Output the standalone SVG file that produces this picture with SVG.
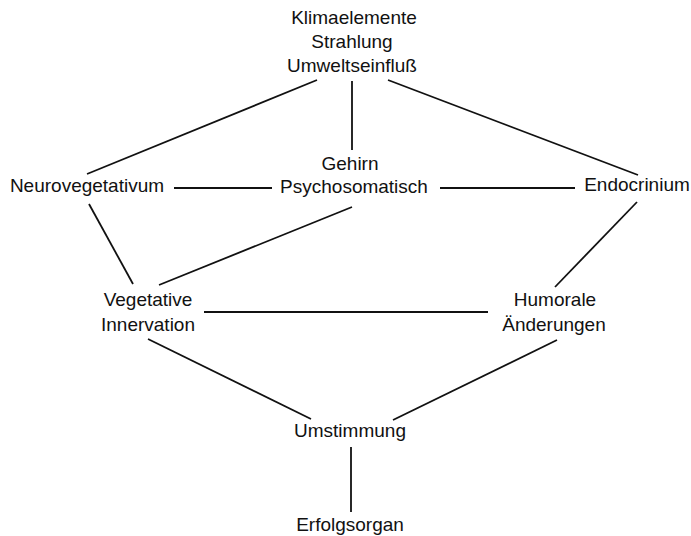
<svg xmlns="http://www.w3.org/2000/svg" width="691" height="536" viewBox="0 0 691 536">
<style>
text{font-family:"Liberation Sans",Arial,sans-serif;font-size:19px;fill:#111;text-anchor:middle}
.c line{stroke:#111;stroke-width:1.8;stroke-linecap:butt}
</style>
<rect width="691" height="536" fill="#fff"/>
<g id="connectors" class="c">
<line x1="317" y1="80" x2="87" y2="174"/>
<line x1="352" y1="81" x2="352" y2="150"/>
<line x1="388" y1="80" x2="638" y2="175"/>
<line x1="174" y1="188" x2="272" y2="188"/>
<line x1="440" y1="188" x2="575" y2="188"/>
<line x1="89" y1="204" x2="133" y2="284"/>
<line x1="352" y1="207" x2="159" y2="285"/>
<line x1="637" y1="202" x2="555" y2="287"/>
<line x1="204" y1="312" x2="488" y2="312"/>
<line x1="148" y1="339" x2="311" y2="419"/>
<line x1="557" y1="340" x2="393" y2="420"/>
<line x1="351" y1="447" x2="351" y2="512"/>
</g>
<g id="klima">
<text x="354" y="24">Klimaelemente</text>
<text x="352" y="48">Strahlung</text>
<text x="352" y="72">Umweltseinfluß</text>
</g>
<g id="neuro"><text x="87" y="192">Neurovegetativum</text></g>
<g id="gehirn">
<text x="350" y="170">Gehirn</text>
<text x="354" y="193">Psychosomatisch</text>
</g>
<g id="endo"><text x="637" y="191">Endocrinium</text></g>
<g id="vegetative">
<text x="148" y="306">Vegetative</text>
<text x="148" y="331">Innervation</text>
</g>
<g id="humorale">
<text x="555" y="306">Humorale</text>
<text x="554" y="331">Änderungen</text>
</g>
<g id="umstimmung"><text x="350" y="437">Umstimmung</text></g>
<g id="erfolgsorgan"><text x="350" y="531">Erfolgsorgan</text></g>
</svg>
